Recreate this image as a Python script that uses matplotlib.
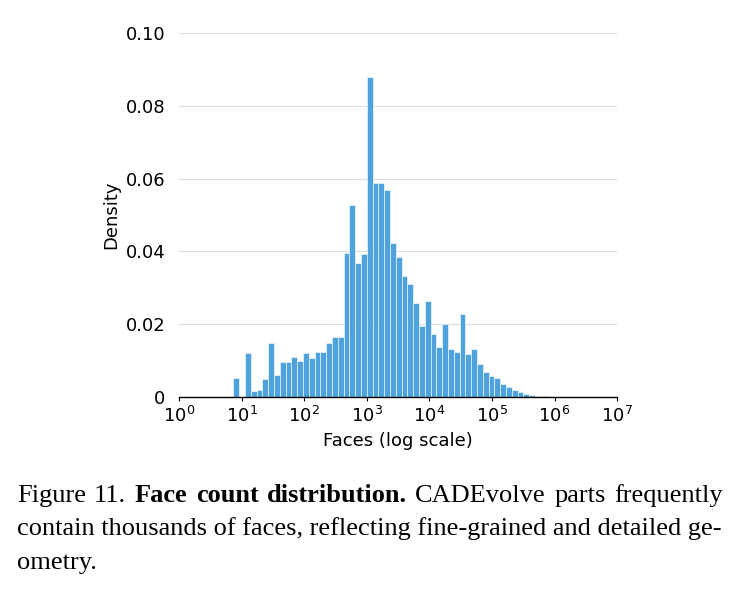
import numpy as np
import matplotlib
matplotlib.use("Agg")
import matplotlib.pyplot as plt
from matplotlib.ticker import FixedLocator, FuncFormatter, NullLocator

# histogram of face counts, log10 bins (height = fraction of parts per bin)
first_edge_log = 0.868
bin_width_log = 0.0927
bin_heights = [
    0.0053, 0.0, 0.0121, 0.0017, 0.0019, 0.0051, 0.0148, 0.0062, 0.0096, 0.0096,
    0.0109, 0.0099, 0.0121, 0.0108, 0.0125, 0.0125, 0.0148, 0.0165, 0.0165, 0.0397,
    0.0528, 0.0368, 0.0394, 0.0878, 0.0587, 0.0587, 0.0570, 0.0423, 0.0384, 0.0333,
    0.0311, 0.0259, 0.0196, 0.0264, 0.0172, 0.0138, 0.0202, 0.0131, 0.0124, 0.0227,
    0.0117, 0.0133, 0.0090, 0.0070, 0.0058, 0.0053, 0.0035, 0.0028, 0.0019, 0.0014,
    0.0009, 0.0006, 0.0004, 0.0002, 0.0001, 0.00005,
]
y_ticks = [0.0, 0.02, 0.04, 0.06, 0.08, 0.10]
x_decades = list(range(0, 8))

# first caption line as (word, weight) so it can be justified
caption_first = [
    ("Figure", "normal"), ("11.", "normal"), ("Face", "bold"), ("count", "bold"),
    ("distribution.", "bold"), ("CADEvolve", "normal"), ("parts", "normal"),
    ("frequently", "normal"),
]
caption_rest = [
    "contain thousands of faces, reflecting fine-grained and detailed ge-",
    "ometry.",
]

BAR_COLOR = "#4ea3dc"

fig = plt.figure(figsize=(7.4, 5.9), dpi=100)
ax = fig.add_axes([0.242, 0.327, 0.592, 0.617])

edges = 10 ** (first_edge_log + bin_width_log * np.arange(len(bin_heights) + 1))
ax.bar(edges[:-1], bin_heights, width=np.diff(edges), align="edge",
       color=BAR_COLOR, edgecolor="white", linewidth=0.4, zorder=2)

ax.set_xscale("log")
ax.set_xlim(1, 1e7)
ax.set_ylim(0, 0.10)
ax.xaxis.set_major_locator(FixedLocator([10.0 ** d for d in x_decades]))
ax.xaxis.set_minor_locator(NullLocator())
ax.set_xticklabels([rf"$10^{{{d}}}$" for d in x_decades])
ax.set_yticks(y_ticks)
ax.yaxis.set_major_formatter(FuncFormatter(lambda v, _: "0" if v == 0 else f"{v:.2f}"))

ax.grid(axis="y", color="#dddddd", linewidth=0.8, zorder=0)
ax.set_axisbelow(True)
for side in ("top", "right", "left"):
    ax.spines[side].set_visible(False)
ax.spines["bottom"].set_linewidth(1.0)
ax.tick_params(axis="y", length=0, pad=10, labelsize=13)
ax.tick_params(axis="x", length=3, labelsize=13, direction="out")

ax.set_xlabel("Faces (log scale)", fontsize=13, labelpad=4)
ax.set_ylabel("Density", fontsize=13, labelpad=4)

# caption in serif below the chart, first line justified
serif = ["Liberation Serif", "DejaVu Serif"]
cap_size = 19
x_left, x_right = 0.0226, 0.9766
y0, dy = 0.1492, 0.0568

renderer = fig.canvas.get_renderer()
words = []
for w, weight in caption_first:
    t = fig.text(0, y0, w, family=serif, fontsize=cap_size, weight=weight, va="baseline")
    words.append(t)
widths = [t.get_window_extent(renderer).width / fig.bbox.width for t in words]
gap = (x_right - x_left - sum(widths)) / (len(words) - 1)
x = x_left
for t, wd in zip(words, widths):
    t.set_x(x)
    x += wd + gap

for i, line in enumerate(caption_rest, start=1):
    fig.text(x_left, y0 - i * dy, line, family=serif, fontsize=cap_size, va="baseline")

fig.savefig("out.png", dpi=100)
